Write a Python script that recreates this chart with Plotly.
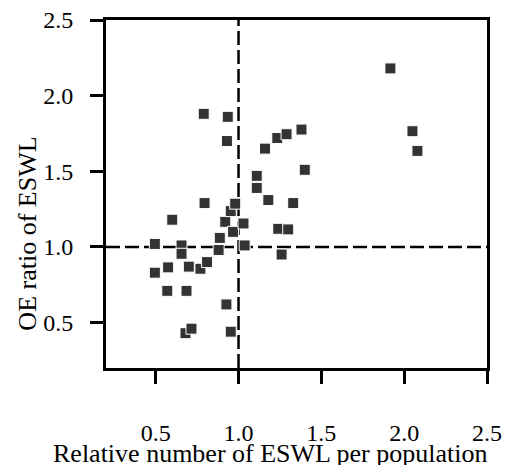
import plotly.graph_objects as go

# Relative number of ESWL per population (x) and OE ratio of ESWL (y)
rel_number = [0.495, 0.60, 0.795, 0.495, 0.575, 0.656, 0.656, 0.70, 0.77, 0.81,
              0.57, 0.686, 0.68, 0.716, 0.927, 0.953, 0.887, 0.88, 0.92, 0.953,
              0.98, 0.967, 1.03, 1.037, 0.79, 0.935, 0.93, 1.11, 1.11, 1.18,
              1.33, 1.24, 1.30, 1.26, 1.16, 1.234, 1.29, 1.38, 1.40, 1.917,
              2.05, 2.08]
oe_ratio = [1.02, 1.18, 1.29, 0.83, 0.865, 1.01, 0.955, 0.87, 0.856, 0.90,
            0.71, 0.71, 0.43, 0.46, 0.62, 0.44, 1.06, 0.98, 1.166, 1.237,
            1.286, 1.10, 1.155, 1.01, 1.88, 1.86, 1.70, 1.47, 1.39, 1.31,
            1.29, 1.12, 1.116, 0.95, 1.65, 1.72, 1.745, 1.776, 1.51, 2.18,
            1.765, 1.635]

ref_x = 1.0
ref_y = 1.0
tick_vals = [0.5, 1.0, 1.5, 2.0, 2.5]
tick_text = ["0.5", "1.0", "1.5", "2.0", "2.5"]
axis_range = [0.2, 2.5]
x_title = "Relative number of ESWL per population"
y_title = "OE ratio of ESWL"

fig = go.Figure()
fig.add_trace(go.Scatter(
    x=rel_number, y=oe_ratio, mode="markers",
    marker=dict(symbol="square", size=11, color="#333333",
                line=dict(color="white", width=1)),
    showlegend=False, cliponaxis=False,
))

dash_line = dict(color="black", width=2.5, dash="14px,5px")
fig.add_vline(x=ref_x, line=dash_line, layer="below")
fig.add_hline(y=ref_y, line=dash_line, layer="below")

font_family = "Liberation Serif, Times New Roman, serif"
axis_common = dict(
    range=axis_range, tickvals=tick_vals, ticktext=tick_text,
    showgrid=False, zeroline=False, automargin=False,
    showline=True, linecolor="black", linewidth=3, mirror=True,
    ticks="outside", ticklen=13, tickwidth=3, tickcolor="black",
    tickfont=dict(family=font_family, size=24, color="black"),
)

fig.update_layout(
    width=511, height=465,
    margin=dict(l=106, r=24, t=20, b=97),
    paper_bgcolor="white", plot_bgcolor="white",
    font=dict(family=font_family, color="black"),
    xaxis=dict(**axis_common, ticklabelstandoff=28),
    yaxis=dict(**axis_common, ticklabelstandoff=12),
)

fig.add_annotation(text=x_title, xref="paper", yref="paper", x=0.4304, y=-0.247,
                   xanchor="center", yanchor="middle", showarrow=False,
                   font=dict(family=font_family, size=26, color="black"))
fig.add_annotation(text=y_title, xref="paper", yref="paper", x=-0.207, y=0.3865,
                   xanchor="center", yanchor="middle", textangle=-90, showarrow=False,
                   font=dict(family=font_family, size=26, color="black"))

fig.write_html("out.html", config={"displayModeBar": False},
               post_script="document.body.style.margin='0';")
